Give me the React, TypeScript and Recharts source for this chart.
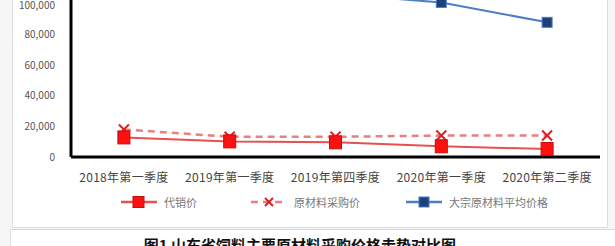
import React from "react";
import { Line, LineChart, XAxis, YAxis } from "recharts";

const quarters = [
  "2018年第一季度",
  "2019年第一季度",
  "2019年第四季度",
  "2020年第一季度",
  "2020年第二季度",
];
const agentPrice = [12800, 10200, 9600, 7000, 5200];
const materialPrice = [18000, 13200, 13200, 14000, 14000];
const bulkPrice = [110000, 108000, 106500, 101000, 88000];
const yTicks = [0, 20000, 40000, 60000, 80000, 100000];

const seriesInfo = [
  { key: "agent", name: "代销价", color: "#E85050", dash: "", marker: "redSquare" },
  { key: "material", name: "原材料采购价", color: "#E88080", dash: "7 5", marker: "cross" },
  { key: "bulk", name: "大宗原材料平均价格", color: "#4A7EC8", dash: "", marker: "blueSquare" },
];

const data = quarters.map((q, i) => ({
  name: q,
  agent: agentPrice[i],
  material: materialPrice[i],
  bulk: bulkPrice[i],
}));

function fmt(n: number) {
  return n.toLocaleString("en-US");
}

const RedSquare = (p: any) => {
  if (p.cx == null || p.cy == null) return null;
  return (
    <rect x={p.cx - 6} y={p.cy - 6.5} width={12} height={13} fill="#FF1010" stroke="#C01010" strokeWidth={1} />
  );
};

const BlueSquare = (p: any) => {
  if (p.cx == null || p.cy == null) return null;
  return (
    <rect x={p.cx - 5} y={p.cy - 5} width={10} height={10} fill="#1F3F7A" stroke="#4A7EC8" strokeWidth={1} />
  );
};

const Cross = (p: any) => {
  if (p.cx == null || p.cy == null) return null;
  return (
    <g stroke="#E02020" strokeWidth={2}>
      <line x1={p.cx - 5} y1={p.cy - 5} x2={p.cx + 5} y2={p.cy + 5} />
      <line x1={p.cx - 5} y1={p.cy + 5} x2={p.cx + 5} y2={p.cy - 5} />
    </g>
  );
};

function LegendIcon({ kind, color, dash }: { kind: string; color: string; dash: string }) {
  return (
    <svg width={38} height={14} style={{ verticalAlign: "middle" }}>
      <line x1={1} y1={7} x2={37} y2={7} stroke={color} strokeWidth={2.5} strokeDasharray={dash} />
      {kind === "redSquare" && <rect x={13} y={1.5} width={11} height={11} fill="#FF1010" stroke="#C01010" />}
      {kind === "blueSquare" && <rect x={14} y={2} width={10} height={10} fill="#1F3F7A" stroke="#4A7EC8" />}
      {kind === "cross" && (
        <g stroke="#E02020" strokeWidth={2}>
          <line x1={15} y1={3} x2={23} y2={11} />
          <line x1={15} y1={11} x2={23} y2={3} />
        </g>
      )}
    </svg>
  );
}

const legendX = [120, 250, 405];

export default function App() {
  return (
    <div
      style={{
        position: "absolute",
        left: 0,
        top: 0,
        width: 615,
        height: 246,
        overflow: "hidden",
        background: "#F6F6F6",
        fontFamily: "'Noto Sans CJK SC', 'Noto Sans', sans-serif",
      }}
    >
      <div
        style={{
          position: "absolute",
          left: 12,
          top: -2,
          width: 594,
          height: 228,
          background: "#fff",
          border: "1px solid #DDDDDD",
        }}
      />
      <div
        style={{
          position: "absolute",
          left: 10,
          top: 229,
          width: 620,
          height: 40,
          background: "#fff",
          borderTop: "1px solid #D8D8D8",
          borderLeft: "1px solid #E4E4E4",
        }}
      />
      <div style={{ position: "absolute", left: 0, top: 0 }}>
        <LineChart
          width={615}
          height={246}
          data={data}
          margin={{ top: 0, right: 15, left: 10, bottom: 59 }}
        >
          <XAxis
            dataKey="name"
            scale="band"
            height={30}
            tickLine={false}
            axisLine={{ stroke: "#000", strokeWidth: 3 }}
            tickMargin={10}
            tick={{ fontSize: 12, fill: "#444", letterSpacing: 0.3 }}
            interval={0}
          />
          <YAxis
            width={61}
            domain={[0, 102600]}
            ticks={yTicks}
            allowDataOverflow
            tickFormatter={fmt}
            tickLine={false}
            tickSize={0}
            tickMargin={16}
            axisLine={{ stroke: "#000", strokeWidth: 3 }}
            tick={{ fontSize: 10, fill: "#555" }}
          />
          <Line
            dataKey="material"
            name={seriesInfo[1].name}
            stroke={seriesInfo[1].color}
            strokeWidth={2.5}
            strokeDasharray={seriesInfo[1].dash}
            dot={<Cross />}
            isAnimationActive={false}
          />
          <Line
            dataKey="agent"
            name={seriesInfo[0].name}
            stroke={seriesInfo[0].color}
            strokeWidth={2}
            dot={<RedSquare />}
            isAnimationActive={false}
          />
          <Line
            dataKey="bulk"
            name={seriesInfo[2].name}
            stroke={seriesInfo[2].color}
            strokeWidth={2}
            dot={<BlueSquare />}
            isAnimationActive={false}
          />
        </LineChart>
      </div>
      {seriesInfo.map((s, i) => (
        <div
          key={s.key}
          style={{
            position: "absolute",
            left: legendX[i],
            top: 192,
            fontSize: 11,
            color: "#777",
            whiteSpace: "nowrap",
            lineHeight: "16px",
          }}
        >
          <LegendIcon kind={s.marker} color={s.color} dash={s.dash} />
          <span style={{ marginLeft: 6, verticalAlign: "middle" }}>{s.name}</span>
        </div>
      ))}
      <div
        style={{
          position: "absolute",
          left: 0,
          width: 600,
          top: 234,
          textAlign: "center",
          fontSize: 15,
          fontWeight: 700,
          color: "#111",
          whiteSpace: "nowrap",
        }}
      >
        图1 山东省饲料主要原材料采购价格走势对比图
      </div>
    </div>
  );
}
